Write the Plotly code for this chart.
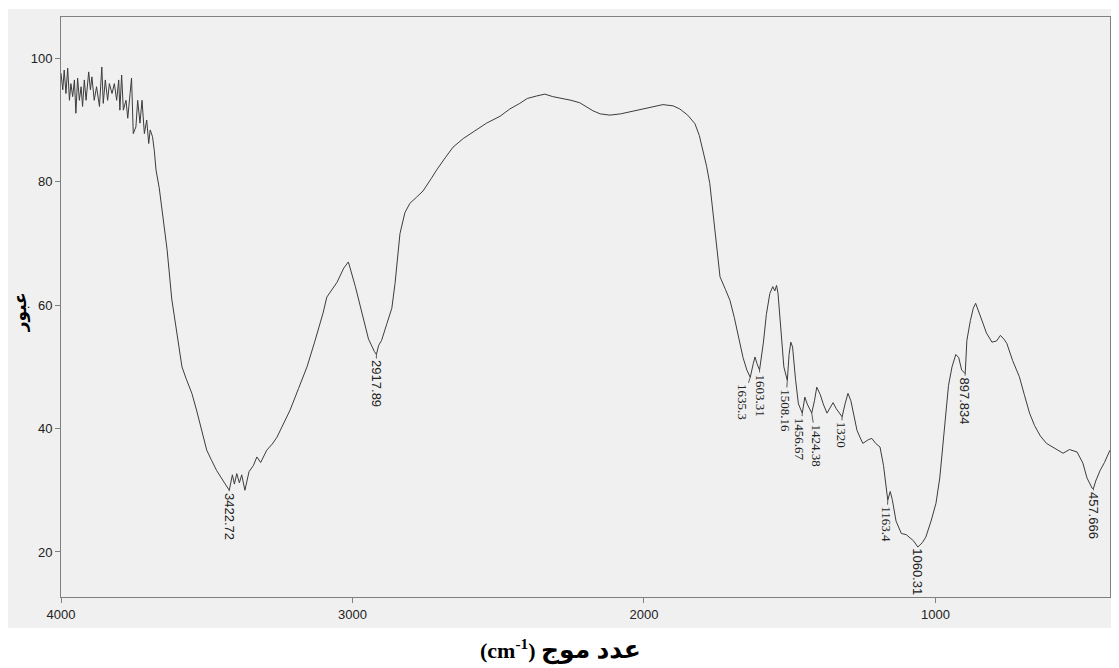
import plotly.graph_objects as go

# Wavenumber (cm-1) and transmittance (%)
wavenumber = [
    4000, 3994, 3989, 3983, 3977, 3971, 3966, 3960, 3954, 3949, 3943, 3937, 3931, 3926,
    3920, 3914, 3905, 3899, 3894, 3886, 3878, 3868, 3860, 3855, 3848, 3840, 3834, 3825,
    3817, 3809, 3802, 3798, 3792, 3786, 3777, 3771, 3763, 3758, 3752, 3743, 3737, 3729,
    3722, 3714, 3706, 3699, 3694, 3686, 3680, 3674, 3663,
    3650, 3636, 3620, 3603, 3585, 3570, 3551, 3535, 3523, 3510, 3500, 3485, 3466, 3450,
    3435, 3422.72, 3412, 3405, 3397, 3388, 3380, 3369, 3355, 3340, 3328, 3315, 3294, 3275,
    3259, 3235, 3214, 3185, 3156, 3130, 3101, 3088, 3053, 3030, 3014,
    2990, 2965, 2945, 2925, 2917.89, 2910, 2900, 2882, 2865, 2854, 2845, 2837, 2820, 2803,
    2780, 2758, 2730, 2710, 2680, 2655, 2620, 2587, 2540, 2494, 2460, 2426, 2400, 2368,
    2340, 2313, 2280, 2250, 2220, 2200, 2175, 2150, 2117, 2080, 2038, 2000, 1965, 1935,
    1900, 1877, 1850, 1825, 1810, 1798, 1785, 1774, 1765, 1756, 1748, 1739, 1720, 1705,
    1690, 1677, 1660, 1647, 1635.3, 1625, 1619, 1612, 1603.31, 1590, 1580, 1568, 1558,
    1551, 1545, 1540, 1530, 1520, 1508.16, 1502, 1496, 1490, 1480, 1470, 1456.67, 1448,
    1440, 1424.38, 1415, 1407, 1395, 1385, 1372, 1360, 1351, 1340, 1320, 1310, 1300,
    1290, 1280, 1269, 1258, 1249, 1230, 1218, 1205, 1190, 1178, 1168, 1163.4, 1155, 1148,
    1135, 1117, 1100, 1090, 1075, 1060.31, 1045, 1033, 1015, 998, 985, 975, 964, 955, 943,
    930, 920, 910, 897.834, 892, 880, 870, 862, 855, 841, 825, 806, 790, 777, 765, 755,
    735, 712, 695, 677, 660, 640, 619, 600, 580, 562, 540, 514, 494, 480, 462, 457.666,
    450, 435, 420, 401,
]
transmittance = [
    97.6, 94.9, 98.1, 94.3, 98.4, 93.2, 95.9, 93.8, 96.5, 91.1, 96.8, 93.2, 95.4, 92.2,
    96.5, 93.2, 97.8, 94.9, 97.0, 93.2, 95.4, 92.2, 98.6, 92.7, 96.5, 93.2, 95.9, 94.3,
    95.9, 93.2, 96.5, 91.6, 97.3, 91.6, 93.2, 90.3, 94.3, 96.8, 87.8, 88.9, 93.2, 89.5,
    93.2, 87.8, 90.0, 86.2, 88.4, 87.3, 85.1, 81.9, 79.0,
    74.3, 69.0, 61.0, 56.0, 50.0, 48.0, 45.7, 43.0, 40.8, 38.5, 36.5, 35.0, 33.2, 32.0,
    31.0, 30.0, 32.5, 31.0, 32.7, 31.2, 32.5, 30.0, 33.0, 34.0, 35.4, 34.5, 36.5, 37.5,
    38.6, 41.0, 43.0, 46.5, 50.0, 54.0, 58.7, 61.3, 63.7, 66.0, 67.0,
    63.0, 58.0, 54.5, 52.5, 52.0, 53.5, 54.3, 57.0, 59.5, 63.5, 68.0, 71.6, 75.0, 76.5,
    77.5, 78.5, 80.5, 82.0, 84.0, 85.6, 87.0, 88.0, 89.5, 90.6, 91.8, 92.7, 93.5, 93.9,
    94.2, 93.8, 93.5, 93.2, 92.8, 92.2, 91.5, 91.0, 90.8, 91.0, 91.4, 91.8, 92.2, 92.5,
    92.3, 91.8, 90.8, 89.4, 87.5, 85.1, 82.5, 79.7, 76.0, 71.6, 68.0, 64.6, 62.5, 60.8,
    58.0, 55.4, 51.5, 49.5, 48.3, 50.5, 51.6, 50.5, 49.5, 54.0, 58.5, 61.9, 63.0,
    62.3, 63.2, 61.9, 56.0, 50.0, 47.8, 52.0, 54.0, 53.2, 48.0, 44.0, 42.5, 45.1,
    44.0, 42.5, 44.5, 46.7, 45.5, 44.0, 42.5, 43.5, 44.2, 43.2, 41.9, 44.0, 45.7,
    44.5, 42.0, 39.7, 38.5, 37.6, 38.2, 38.4, 37.6, 37.0, 34.0, 30.0, 28.4, 29.8, 28.5,
    25.0, 23.0, 22.8, 22.4, 21.8, 20.8, 21.5, 22.4, 25.0, 27.9, 32.0, 37.0, 41.9, 47.0, 50.0,
    52.0, 51.5, 49.5, 48.9, 54.3, 57.5, 59.5, 60.3, 59.5, 57.6, 55.5, 54.0, 54.2, 55.1, 54.5, 53.8,
    51.0, 48.4, 45.5, 42.5, 40.5, 38.8, 37.6, 37.0, 36.5, 36.0, 36.6, 36.2, 34.4, 32.0, 30.3, 30.3,
    31.5, 33.2, 34.5, 36.5,
]

# Peak labels: wavenumber, transmittance at the minimum, label text
peak_x = [3422.72, 2917.89, 1635.3, 1603.31, 1508.16, 1456.67, 1424.38, 1320,
          1163.4, 1060.31, 897.834, 457.666]
peak_y = [30.0, 52.0, 48.3, 49.5, 47.8, 42.5, 42.5, 41.9, 28.4, 20.8, 48.9, 30.3]
peak_text = ["3422.72", "2917.89", "1635.3", "1603.31", "1508.16", "1456.67",
             "1424.38", "1320", "1163.4", "1060.31", "897.834", "457.666"]
peak_ax = [0, 0, -8, 0, -2, -2, 5, -1, -1, 0, -1, 0]
peak_ay = [26, 29, 25, 25, 30, 26, 32, 18, 24, 25, 27, 27]
peak_serif = [False, False, True, True, True, True, True, True, True, False, False, False]

x_ticks = [4000, 3000, 2000, 1000]
y_ticks = [20, 40, 60, 80, 100]

fig = go.Figure()
fig.add_trace(go.Scatter(
    x=wavenumber, y=transmittance, mode="lines",
    line=dict(color="#3c3c3c", width=1),
    hoverinfo="skip", showlegend=False,
))

annotations = []
for px_, py_, t, ax_, ay_, serif in zip(peak_x, peak_y, peak_text, peak_ax, peak_ay, peak_serif):
    annotations.append(dict(
        x=px_, y=py_, xref="x", yref="y", text=t, textangle=90,
        showarrow=True, arrowhead=0, arrowwidth=0.8, arrowcolor="#333333",
        ax=ax_, ay=ay_, standoff=0,
        font=dict(family="Liberation Serif" if serif else "Liberation Sans",
                  size=13, color="#222222"),
    ))

annotations.append(dict(
    x=-0.039, y=0.491, xref="paper", yref="paper", text="<b>عبور</b>",
    textangle=-90, showarrow=False, xanchor="center", yanchor="middle",
    font=dict(family="DejaVu Sans", size=17, color="#000000"),
))
annotations.append(dict(
    x=0.4766, y=-0.0914, xref="paper", yref="paper",
    text="<b>(cm<sup>-1</sup>) <span style='font-size:25px'>عدد موج</span></b>",
    showarrow=False, xanchor="center", yanchor="middle",
    font=dict(family="Liberation Serif, DejaVu Sans", size=22, color="#000000"),
))

# The page body has an 8 px margin, so the figure is sized and placed to
# land the plot frame where the reference has it.
fig.update_layout(
    width=1111, height=660,
    margin=dict(l=53, r=9, t=9, b=71),
    paper_bgcolor="#ffffff", plot_bgcolor="#f0f0f0",
    shapes=[dict(type="rect", xref="paper", yref="paper",
                 x0=-0.0505, x1=1.0086, y0=-0.0534, y1=1.0138,
                 fillcolor="#f0f0f0", line=dict(width=0), layer="below")],
    annotations=annotations,
    xaxis=dict(
        range=[4000, 401], tickvals=x_ticks, ticktext=[str(v) for v in x_ticks],
        showgrid=False, zeroline=False, showline=True, mirror=True,
        linecolor="#808080", linewidth=1, ticks="outside", ticklen=5,
        tickcolor="#808080",
        tickfont=dict(family="Liberation Sans", size=13, color="#222222"),
    ),
    yaxis=dict(
        range=[12.7, 106.7], tickvals=y_ticks, ticktext=[str(v) for v in y_ticks],
        showgrid=False, zeroline=False, showline=True, mirror=True,
        linecolor="#808080", linewidth=1, ticks="outside", ticklen=5,
        tickcolor="#808080",
        tickfont=dict(family="Liberation Sans", size=13, color="#222222"),
    ),
)

fig.write_html("out.html")
